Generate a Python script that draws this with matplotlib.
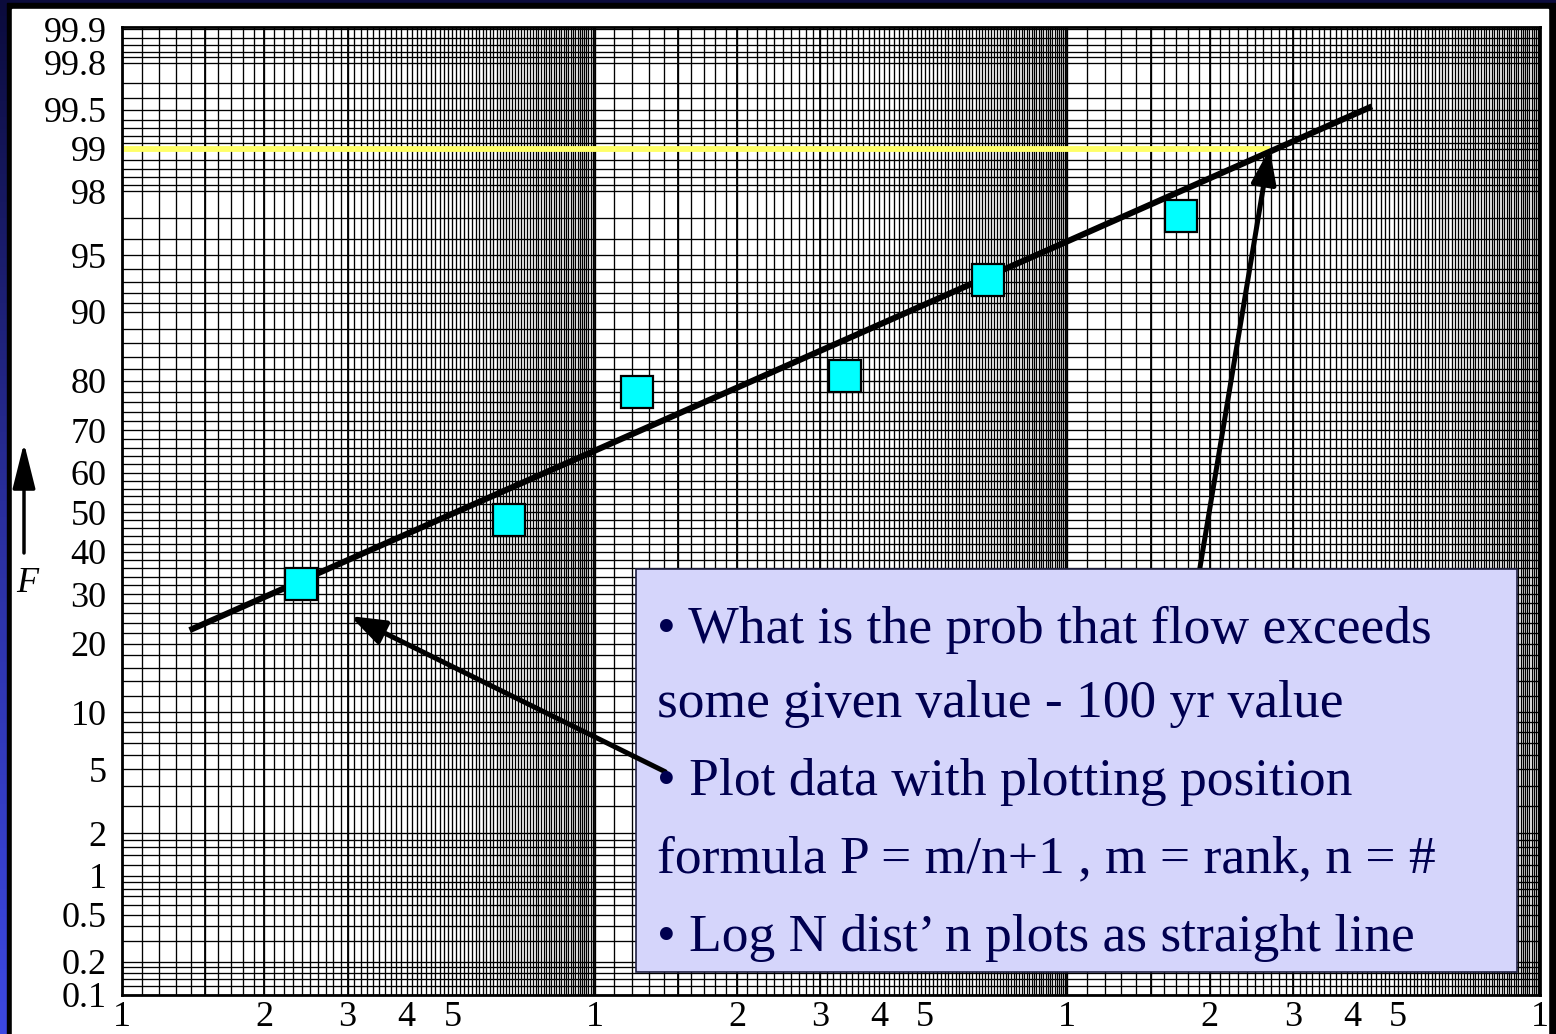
import numpy as np
import matplotlib
matplotlib.use("Agg")
import matplotlib.pyplot as plt
from matplotlib.patches import Rectangle
from matplotlib.colors import LinearSegmentedColormap
from matplotlib.ticker import FixedLocator, FixedFormatter, NullLocator
from statistics import NormalDist

plt.rcParams['font.family'] = ['Liberation Serif', 'DejaVu Serif']

# ranked flows and their plotting positions (percent)
flow = [2.39, 6.59, 12.3, 33.8, 68.0, 174.0]
pct = [32.3, 48.0, 77.9, 80.8, 93.1, 97.1]

# fitted log-normal line, end points
fit_flow = [1.39, 441.0]
fit_pct = [22.5, 99.53]

# 100 yr level and the flow read at it
level_pct = 99.0
level_flow = 268.0

# annotation arrows (tail -> tip)
arrow_pts_tail = (14.1, 4.83)
arrow_pts_tip = (3.04, 25.3)
arrow_q_tail = (186.0, 28.9)

y_ticks = [0.1, 0.2, 0.5, 1, 2, 5, 10, 20, 30, 40, 50, 60, 70, 80, 90,
           95, 98, 99, 99.5, 99.8, 99.9]
y_ticklabels = ['0.1', '0.2', '0.5', '1', '2', '5', '10', '20', '30', '40',
                '50', '60', '70', '80', '90', '95', '98', '99', '99.5',
                '99.8', '99.9']
x_ticks = [1, 2, 3, 4, 5, 10, 20, 30, 40, 50, 100, 200, 300, 400, 500, 1000]
x_ticklabels = ['1', '2', '3', '4', '5'] * 3 + ['1']

notes = [
    "\u2022 What is the prob that flow exceeds",
    "some given value - 100 yr value",
    "\u2022 Plot data with plotting position",
    "formula P = m/n+1 , m = rank, n = #",
    "\u2022 Log N dist\u2019 n plots as straight line",
]
note_baselines = [0.3636, 0.2872, 0.2066, 0.1271, 0.0455]

# probability paper rulings
low = [0.1, 0.12, 0.14, 0.16, 0.18, 0.2, 0.3, 0.4, 0.5, 0.6, 0.7, 0.8, 0.9,
       1, 1.2, 1.4, 1.6, 1.8, 2, 3, 4, 5, 6, 7, 8, 9] + list(range(10, 50, 2))
pct_rules = low + [50] + [round(100 - v, 3) for v in reversed(low)]
flow_rules = np.round(np.concatenate(
    [d * np.arange(1.0, 10.0, 0.1) for d in (1, 10, 100)] + [[1000.0]]), 4)
flow_heavy = [d * v for d in (1, 10, 100) for v in (1, 1.5, 2, 3)] + [1000]

_nd = NormalDist()


def to_z(p):
    p = np.clip(np.asarray(p, dtype=float), 1e-4, 100 - 1e-4)
    return np.vectorize(_nd.inv_cdf, otypes=[float])(p / 100.0)


def from_z(z):
    z = np.asarray(z, dtype=float)
    return 100.0 * np.vectorize(_nd.cdf, otypes=[float])(z)


W, H = 1556, 1034
fig = plt.figure(figsize=(W / 100, H / 100), dpi=100, facecolor='#0b0b3c')

# slide background: blue strip, black frame, white page
bg = fig.add_axes([0, 0, 1, 1])
bg.set_xlim(0, W)
bg.set_ylim(H, 0)
bg.axis('off')
strip = LinearSegmentedColormap.from_list('strip', ['#0b0b3c', '#2a2f9e', '#3c48e2'])
bg.imshow(np.linspace(0, 1, 256)[:, None], extent=(0, 7, H, 0), aspect='auto', cmap=strip)
bg.add_patch(Rectangle((7, 3), W - 7, H - 3, color='black'))
bg.add_patch(Rectangle((12, 9), 1536, H - 9, color='white'))

# F arrow on the left
bg.annotate('', xy=(24, 443), xytext=(24, 553),
            arrowprops=dict(arrowstyle='-|>,head_length=1.4,head_width=0.35',
                            lw=2.5, color='black', mutation_scale=20,
                            shrinkA=0, shrinkB=0))
bg.text(27, 584, 'F', style='italic', fontsize=26, ha='center', va='center')

ax = fig.add_axes([122 / W, 1 - 995 / H, (1540 - 122) / W, (995 - 27) / H])
ax.set_xscale('log')
ax.set_yscale('function', functions=(to_z, from_z))
ax.set_xlim(1, 1000)
ax.set_ylim(0.0999, 99.905)

ax.vlines(flow_rules, 0, 1, transform=ax.get_xaxis_transform(),
          color='black', lw=0.95, zorder=1)
ax.vlines(flow_heavy, 0, 1, transform=ax.get_xaxis_transform(),
          color='black', lw=1.3, zorder=1)
ax.hlines(pct_rules, 0, 1, transform=ax.get_yaxis_transform(),
          color='black', lw=0.95, zorder=1)

ax.xaxis.set_major_locator(FixedLocator(x_ticks))
ax.xaxis.set_major_formatter(FixedFormatter(x_ticklabels))
ax.xaxis.set_minor_locator(NullLocator())
ax.yaxis.set_major_locator(FixedLocator(y_ticks))
ax.yaxis.set_major_formatter(FixedFormatter(y_ticklabels))
ax.yaxis.set_minor_locator(NullLocator())
ax.tick_params(length=0, labelsize=26, colors='black')
ax.tick_params(axis='x', pad=4)
ax.tick_params(axis='y', pad=11)
for s in ax.spines.values():
    s.set_linewidth(2)
    s.set_zorder(4)

# 100 yr level, fitted line and data
ax.plot([1, level_flow], [level_pct, level_pct], color='#ffff66', lw=4.2,
        solid_capstyle='butt', zorder=3)
ax.plot(fit_flow, fit_pct, color='black', lw=4.4, solid_capstyle='butt', zorder=4)
ax.plot(flow, pct, 's', ms=23, mfc='#00ffff', mec='black', mew=1.6, zorder=5)

head = '-|>,head_length=0.7,head_width=0.25'
ax.annotate('', xy=(level_flow, level_pct), xytext=arrow_q_tail,
            arrowprops=dict(arrowstyle=head, lw=3.6, color='black',
                            mutation_scale=30, shrinkA=0, shrinkB=0), zorder=5)

# note box
ax.add_patch(Rectangle((0.3625, 0.0238), 0.6213, 0.4163, transform=ax.transAxes,
                       fc='#d5d5fb', ec='#222244', lw=1.2, zorder=6))
for line, yb in zip(notes, note_baselines):
    ax.text(0.3773, yb, line, transform=ax.transAxes, va='baseline', ha='left',
            fontsize=38.5, color='#000050', zorder=8)

ax.annotate('', xy=arrow_pts_tip, xytext=arrow_pts_tail,
            arrowprops=dict(arrowstyle=head, lw=3.6, color='black',
                            mutation_scale=30, shrinkA=0, shrinkB=0), zorder=7)

fig.savefig('out.png', dpi=100, facecolor=fig.get_facecolor())
